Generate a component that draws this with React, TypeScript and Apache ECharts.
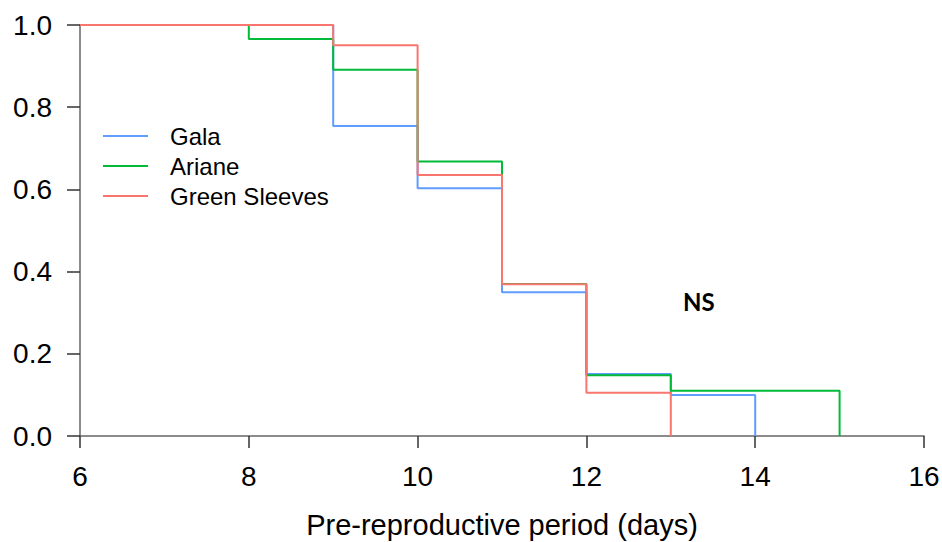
import React, { useEffect, useRef } from "react";
import * as echarts from "echarts";

const seriesNames = ["Gala", "Ariane", "Green Sleeves"];
const seriesColors = ["#619CFF", "#00BA38", "#F8766D"];

// step change points: [day, survival proportion]
const galaData = [[6, 1.0], [9, 0.754], [10, 0.603], [11, 0.35], [12, 0.151], [13, 0.1], [14, 0]];
const arianeData = [[6, 1.0], [8, 0.966], [9, 0.891], [10, 0.668], [11, 0.37], [12, 0.148], [13, 0.11], [15, 0]];
const greenSleevesData = [[6, 1.0], [9, 0.951], [10, 0.635], [11, 0.369], [12, 0.105], [13, 0]];

const xTicks = [6, 8, 10, 12, 14, 16];
const yTicks = [0, 0.2, 0.4, 0.6, 0.8, 1.0];
const xTitle = "Pre-reproductive period (days)";
const annotation = "NS";

export default function App() {
  const ref = useRef<HTMLDivElement>(null);
  useEffect(() => {
    if (!ref.current) return;
    const chart = echarts.init(ref.current, null, { renderer: "svg" });
    const allData = [galaData, arianeData, greenSleevesData];
    const font = "Liberation Sans, Arial, sans-serif";
    chart.setOption({
      animation: false,
      backgroundColor: "#ffffff",
      grid: {
        left: 80,
        right: 18,
        top: 25,
        bottom: 106,
        containLabel: false,
        outerBoundsMode: "none",
      },
      legend: {
        data: seriesNames,
        orient: "vertical",
        left: 98,
        top: 116,
        icon: "rect",
        itemWidth: 45,
        itemHeight: 2,
        itemGap: 0,
        textStyle: {
          fontFamily: font,
          fontSize: 24,
          color: "#000",
          lineHeight: 30,
          padding: [0, 0, 0, 17],
        },
      },
      xAxis: {
        type: "value",
        min: 6,
        max: 16,
        interval: 2,
        name: xTitle,
        nameLocation: "middle",
        nameGap: 74,
        nameTextStyle: { fontFamily: font, fontSize: 29, color: "#000" },
        axisLine: { show: true, onZero: false, lineStyle: { color: "#666", width: 1.5 } },
        axisTick: { show: true, length: 12, lineStyle: { color: "#333", width: 1.5 } },
        axisLabel: {
          fontFamily: font,
          fontSize: 28,
          color: "#000",
          margin: 26,
          formatter: (v: number) => (xTicks.includes(v) ? String(v) : ""),
        },
        splitLine: { show: false },
      },
      yAxis: {
        type: "value",
        min: 0,
        max: 1,
        interval: 0.2,
        axisLine: { show: true, onZero: false, lineStyle: { color: "#666", width: 1.5 } },
        axisTick: { show: true, length: 13, lineStyle: { color: "#333", width: 1.5 } },
        axisLabel: {
          fontFamily: font,
          fontSize: 28,
          color: "#000",
          margin: 28,
          formatter: (v: number) => {
            const t = yTicks.find((y) => Math.abs(y - v) < 1e-9);
            return t === undefined ? "" : t.toFixed(1);
          },
        },
        splitLine: { show: false },
      },
      series: seriesNames.map((name, i) => ({
        name,
        type: "line",
        step: "end",
        data: allData[i],
        symbol: "none",
        color: seriesColors[i],
        lineStyle: { color: seriesColors[i], width: 2 },
        z: 2 + i,
      })),
      graphic: [
        {
          type: "text",
          left: 683,
          top: 289,
          style: {
            text: annotation,
            fontFamily: "Lato, Open Sans, sans-serif",
            fontWeight: "bold",
            fontSize: 24,
            fill: "#000",
          },
        },
      ],
    });
    return () => chart.dispose();
  }, []);
  return <div ref={ref} style={{ width: 942, height: 542, position: "absolute", left: 0, top: 0 }} />;
}
